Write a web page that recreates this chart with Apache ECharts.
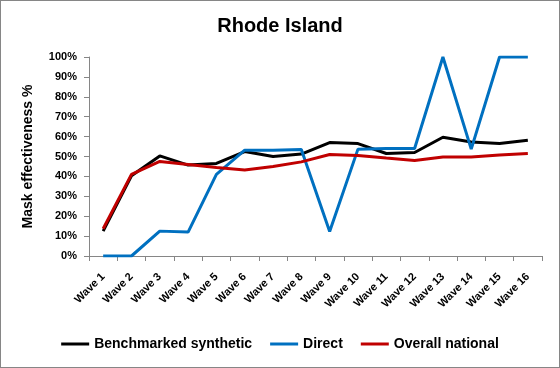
<!DOCTYPE html>
<html>
<head>
<meta charset="utf-8">
<script src="https://cdn.jsdelivr.net/npm/echarts@6/dist/echarts.min.js"></script>
<style>
  html, body { margin: 0; padding: 0; background: #fff; }
  #chart { width: 560px; height: 368px; box-sizing: border-box; border: 1px solid #868686; }
</style>
</head>
<body>
<div id="chart"></div>
<script>
// wave labels
const waves = ['Wave 1','Wave 2','Wave 3','Wave 4','Wave 5','Wave 6','Wave 7','Wave 8',
  'Wave 9','Wave 10','Wave 11','Wave 12','Wave 13','Wave 14','Wave 15','Wave 16'];

// values in percent
const benchmarked = [12.5, 40.3, 50.3, 45.7, 46.5, 52.5, 50, 51.2, 57, 56.5, 51.5, 52, 59.7, 57.3, 56.5, 58.2];
const direct = [0, 0, 12.5, 12, 41, 53.2, 53.2, 53.5, 12.3, 53.7, 54, 54, 100, 53.7, 100, 100];
const overall = [13.7, 41, 47.5, 46, 44.5, 43.2, 45, 47.3, 51, 50.5, 49.2, 48, 49.7, 49.7, 50.7, 51.5];

const font = 'Liberation Sans';
const axisGray = '#868686';

const chart = echarts.init(document.getElementById('chart'));

chart.setOption({
  animation: false,
  title: {
    text: 'Rhode Island',
    left: 'center',
    top: 10,
    textStyle: { fontFamily: font, fontSize: 20, fontWeight: 'bold', color: '#000' }
  },
  grid: { left: 88, right: 17, top: 56, bottom: 111 },
  legend: {
    bottom: 11,
    left: 'center',
    icon: 'rect',
    itemWidth: 28,
    itemHeight: 3,
    itemGap: 18,
    textStyle: { fontFamily: font, fontSize: 14, fontWeight: 'bold', color: '#000' },
    data: ['Benchmarked synthetic', 'Direct', 'Overall national']
  },
  xAxis: {
    type: 'category',
    data: waves,
    boundaryGap: true,
    axisLine: { lineStyle: { color: axisGray } },
    axisTick: { show: true, length: 5, alignWithLabel: false, lineStyle: { color: axisGray } },
    axisLabel: {
      rotate: 45, interval: 0, margin: 19,
      fontFamily: font, fontSize: 11, fontWeight: 'bold', color: '#000'
    },
    splitLine: { show: false }
  },
  yAxis: {
    type: 'value',
    min: 0,
    max: 100,
    interval: 10,
    name: 'Mask effectiveness %',
    nameLocation: 'middle',
    nameGap: 54,
    nameTextStyle: { fontFamily: font, fontSize: 14, fontWeight: 'bold', color: '#000' },
    axisLine: { show: true, lineStyle: { color: axisGray } },
    axisTick: { show: true, length: 5, lineStyle: { color: axisGray } },
    axisLabel: {
      formatter: '{value}%', margin: 12,
      fontFamily: font, fontSize: 11, fontWeight: 'bold', color: '#000'
    },
    splitLine: { show: false }
  },
  series: [
    {
      name: 'Benchmarked synthetic', type: 'line', data: benchmarked,
      symbol: 'none', lineStyle: { width: 3, color: '#000000' }, itemStyle: { color: '#000000' }
    },
    {
      name: 'Direct', type: 'line', data: direct,
      symbol: 'none', lineStyle: { width: 3, color: '#0070C0' }, itemStyle: { color: '#0070C0' }
    },
    {
      name: 'Overall national', type: 'line', data: overall,
      symbol: 'none', lineStyle: { width: 3, color: '#C00000' }, itemStyle: { color: '#C00000' }
    }
  ]
});
</script>
</body>
</html>
